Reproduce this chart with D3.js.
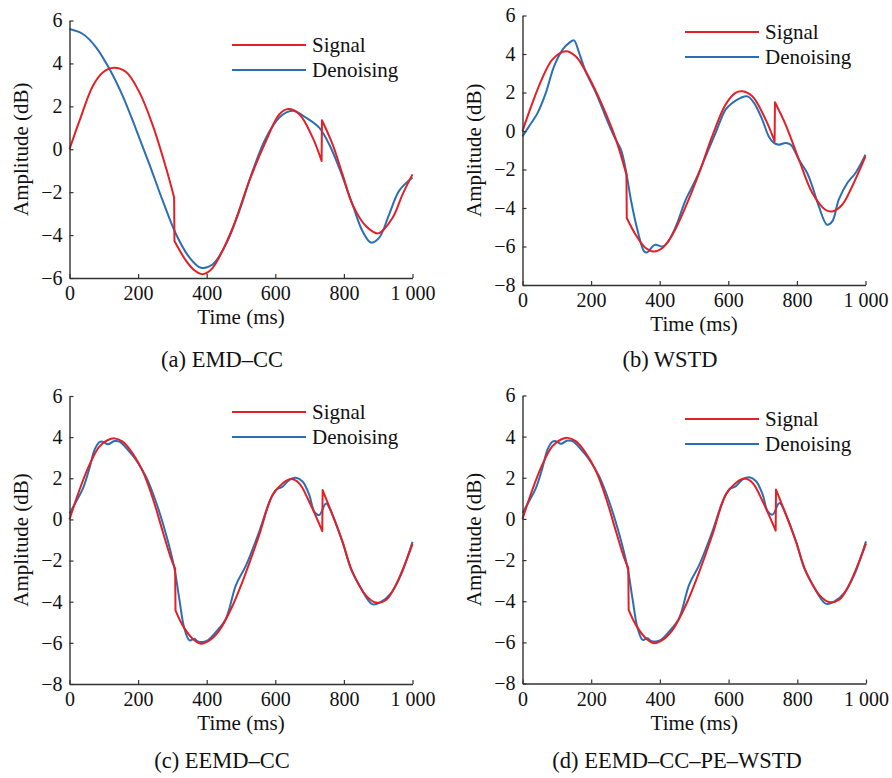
<!DOCTYPE html>
<meta charset="utf-8">
<script src="https://d3js.org/d3.v7.min.js"></script>
<style>
  body { margin: 0; background: #fff; }
  text { font-family: "Liberation Serif", "Times New Roman", serif; fill: #111; }
</style>
<body>
<svg id="chart" width="892" height="778"></svg>
<script>
// time ticks shared by every panel
const timeTicks = [0, 200, 400, 600, 800, 1000];
const ampTicksA = [-6, -4, -2, 0, 2, 4, 6];
const ampTicks = [-8, -6, -4, -2, 0, 2, 4, 6];
const seriesNames = ["Signal", "Denoising"];
const captions = ["(a) EMD\u2013CC", "(b) WSTD", "(c) EEMD\u2013CC", "(d) EEMD\u2013CC\u2013PE\u2013WSTD"];

// [time ms, amplitude dB]
const signalA = [[0,0],[29,1.32],[68,2.95],[97,3.58],[129,3.8],[165,3.6],[204,2.65],[243,1.1],[282,-0.9],[305,-2.25],[306,-4.28],[340,-5.2],[365,-5.65],[388,-5.82],[410,-5.65],[427,-5.3],[476,-3.65],[524,-1.48],[573,0.39],[612,1.63],[638,1.87],[670,1.63],[709,0.54],[735,-0.55],[736,1.35],[767,0.23],[796,-1.17],[825,-2.57],[864,-3.58],[900,-3.92],[942,-3.19],[971,-2.1],[1000,-1.17]];
const denoiseA = [[0,5.6],[39,5.37],[78,4.74],[117,3.73],[155,2.49],[194,0.93],[233,-0.7],[272,-2.41],[311,-3.97],[350,-5.05],[383,-5.52],[417,-5.37],[456,-4.43],[495,-2.88],[534,-1.01],[573,0.54],[612,1.48],[650,1.79],[689,1.48],[728,1.01],[757,0.23],[786,-0.86],[825,-2.57],[854,-3.81],[879,-4.35],[903,-4.12],[932,-3.03],[961,-1.94],[1000,-1.32]];

const signalB = [[0,0],[29,1.46],[58,2.76],[87,3.71],[126,4.14],[155,3.88],[184,3.1],[223,1.72],[262,0.07],[282,-0.97],[303,-2.27],[304,-4.52],[330,-5.39],[359,-6.08],[383,-6.26],[408,-6.08],[437,-5.39],[476,-3.92],[515,-2.18],[553,-0.28],[592,1.37],[621,1.98],[641,2.06],[670,1.8],[709,0.59],[735,-0.54],[736,1.49],[767,0.33],[806,-1.49],[845,-3.22],[883,-4.09],[903,-4.18],[932,-3.83],[961,-2.88],[1000,-1.32]];
const denoiseB = [[0,-0.28],[19,0.24],[44,0.94],[68,1.98],[92,3.36],[117,4.23],[136,4.58],[150,4.71],[165,4.06],[184,3.1],[214,1.98],[248,0.5],[267,-0.28],[287,-0.97],[301,-2.01],[316,-3.57],[335,-5.13],[355,-6.26],[364,-6.3],[379,-6.0],[388,-5.91],[408,-6.0],[422,-5.82],[447,-4.96],[476,-3.57],[505,-2.53],[534,-1.32],[563,-0.1],[592,1.11],[612,1.46],[636,1.72],[656,1.8],[675,1.46],[699,0.59],[718,-0.28],[733,-0.62],[748,-0.71],[767,-0.62],[782,-0.71],[806,-1.49],[830,-2.18],[845,-2.88],[864,-3.92],[888,-4.87],[903,-4.7],[922,-3.57],[947,-2.7],[971,-2.18],[1000,-1.23]];

const signalC = [[0,0],[29,1.43],[58,2.65],[87,3.54],[112,3.86],[131,3.94],[155,3.78],[184,3.21],[214,2.32],[243,1.02],[272,-0.6],[296,-1.9],[308,-2.39],[309,-4.42],[330,-5.15],[359,-5.8],[383,-6.04],[408,-5.88],[437,-5.39],[476,-4.17],[515,-2.55],[553,-0.76],[592,1.19],[621,1.75],[646,1.96],[670,1.75],[699,0.86],[737,-0.57],[738,1.43],[767,0.21],[796,-1.09],[825,-2.55],[864,-3.69],[893,-4.04],[922,-3.93],[951,-3.2],[1000,-1.2]];
const denoiseC = [[0,0.29],[19,0.86],[39,1.5],[58,2.48],[73,3.38],[87,3.75],[97,3.78],[112,3.65],[131,3.81],[146,3.78],[170,3.38],[194,2.89],[223,2.08],[252,0.86],[282,-0.76],[306,-2.39],[320,-3.85],[335,-5.31],[350,-5.88],[364,-5.8],[374,-5.93],[388,-5.96],[403,-5.88],[427,-5.47],[456,-4.82],[485,-3.2],[515,-2.22],[553,-0.6],[583,0.86],[602,1.43],[621,1.59],[641,1.92],[660,2.03],[680,1.83],[699,1.19],[714,0.37],[728,0.21],[748,0.78],[767,0.21],[796,-1.09],[820,-2.39],[845,-3.2],[883,-4.12],[908,-4.01],[937,-3.6],[966,-2.71],[1000,-1.09]];

// panel (d) reproduces the same curves as (c)
const signalD = signalC;
const denoiseD = denoiseC;

const svg = d3.select("#chart");
const red = "#e42027", blue = "#2a6fb5";

const panels = [
  {x0: 69.5, x1: 412.5, yTop: 20.5, yBot: 278, yDom: [-6, 6], yTicks: ampTicksA, sig: signalA, den: denoiseA, leg: 24.5, capX: 222, capY: 367, title: captions[0]},
  {x0: 522.5, x1: 865.5, yTop: 15.5, yBot: 285, yDom: [-8, 6], yTicks: ampTicks, sig: signalB, den: denoiseB, leg: 16.5, capX: 670, capY: 367, title: captions[1]},
  {x0: 69.5, x1: 412.5, yTop: 396, yBot: 684, yDom: [-8, 6], yTicks: ampTicks, sig: signalC, den: denoiseC, leg: 16, capX: 222, capY: 768, title: captions[2]},
  {x0: 522.5, x1: 866, yTop: 395.5, yBot: 683.5, yDom: [-8, 6], yTicks: ampTicks, sig: signalD, den: denoiseD, leg: 23.5, capX: 677, capY: 768, title: captions[3]}
];

// split a series where it jumps (two samples 1 ms apart), smooth each piece,
// then join the pieces with straight vertical steps
function splitAtJumps(data) {
  const segs = [[data[0]]];
  for (let i = 1; i < data.length; i++) {
    if (data[i][0] - data[i - 1][0] <= 1) segs.push([]);
    segs[segs.length - 1].push(data[i]);
  }
  return segs;
}

panels.forEach(function(p) {
  const x = d3.scaleLinear().domain([0, 1000]).range([p.x0, p.x1]);
  const y = d3.scaleLinear().domain(p.yDom).range([p.yBot, p.yTop]);
  const g = svg.append("g");

  const line = d3.line()
    .x(d => x(d[0]))
    .y(d => y(d[1]))
    .curve(d3.curveCatmullRom.alpha(0.5));

  const jumpy = data => splitAtJumps(data)
    .map((s, i) => i ? line(s).replace(/^M/, "L") : line(s))
    .join("");

  // denoised first, signal on top
  g.append("path")
    .attr("fill", "none").attr("stroke", blue).attr("stroke-width", 2)
    .attr("d", line(p.den));
  g.append("path")
    .attr("fill", "none").attr("stroke", red).attr("stroke-width", 2)
    .attr("stroke-linejoin", "round")
    .attr("d", jumpy(p.sig));

  // axes, ticks point inward
  const xAxis = g.append("g")
    .attr("transform", `translate(0,${p.yBot})`)
    .call(d3.axisBottom(x).tickValues(timeTicks)
      .tickFormat(d => d === 1000 ? "1 000" : d)
      .tickSizeInner(-4).tickSizeOuter(0).tickPadding(8));
  const yAxis = g.append("g")
    .attr("transform", `translate(${p.x0},0)`)
    .call(d3.axisLeft(y).tickValues(p.yTicks)
      .tickSizeInner(-4).tickSizeOuter(0).tickPadding(7));

  [xAxis, yAxis].forEach(function(a) {
    a.select(".domain").attr("stroke", "#333").attr("stroke-width", 1.4);
    a.selectAll(".tick line").attr("stroke", "#333").attr("stroke-width", 1.2);
    a.selectAll(".tick text")
      .attr("font-family", "Liberation Serif, serif")
      .attr("font-size", 20).attr("fill", "#111");
  });

  g.append("text")
    .attr("x", (p.x0 + p.x1) / 2).attr("y", p.yBot + 46)
    .attr("text-anchor", "middle").attr("font-size", 21)
    .text("Time (ms)");

  g.append("text")
    .attr("transform", `translate(${p.x0 - 42},${(p.yTop + p.yBot) / 2}) rotate(-90)`)
    .attr("text-anchor", "middle").attr("font-size", 21)
    .text("Amplitude (dB)");

  // legend
  const lx = p.x0 + 162.5;
  [red, blue].forEach(function(c, i) {
    const ly = p.yTop + p.leg + i * 25;
    g.append("line")
      .attr("x1", lx).attr("x2", lx + 74)
      .attr("y1", ly).attr("y2", ly)
      .attr("stroke", c).attr("stroke-width", 2);
    g.append("text")
      .attr("x", lx + 80).attr("y", ly + 7)
      .attr("font-size", 21)
      .text(seriesNames[i]);
  });

  g.append("text")
    .attr("x", p.capX).attr("y", p.capY)
    .attr("text-anchor", "middle").attr("font-size", 22.5)
    .text(p.title);
});
</script>
</body>
